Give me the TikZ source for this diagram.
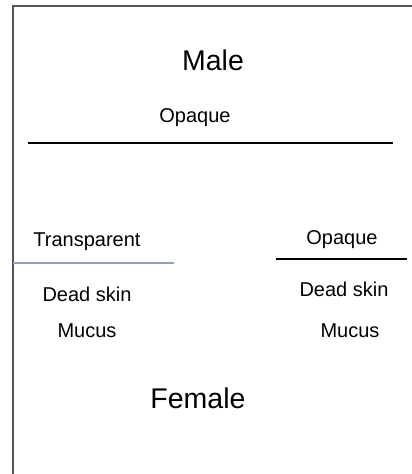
\documentclass[tikz,border=0pt]{standalone}
\usepackage{fontspec}
\setmainfont{Liberation Sans}
\definecolor{framegray}{HTML}{555555}
\definecolor{slateline}{HTML}{8FA0BD}
\begin{document}
\begin{tikzpicture}[x=1pt,y=1pt,
  title/.style={font=\fontsize{28.5}{30}\selectfont, inner sep=0pt, anchor=base},
  label/.style={font=\fontsize{20}{22}\selectfont, inner sep=0pt, anchor=base},
  blackline/.style={line width=2.8pt, black},
  blueline/.style={line width=2pt, slateline},
  frameline/.style={line width=1.8pt, framegray}]
\useasboundingbox (0,0) rectangle (412,474);
\fill[white] (0,0) rectangle (412,474);
% frame
\coordinate (fb) at (13,0);
\coordinate (fc) at (13,468);
\coordinate (fr) at (412,468);
\draw[frameline] (fb) -- (fc) -- (fr);
% texts
\node[title] (male) at (213,403) {Male};
\node[label] (opq1) at (195,351) {Opaque};
\node[label] (trans) at (87,227.3) {Transparent};
\node[label] (opq2) at (342,229) {Opaque};
\node[label] (dsl) at (87,172.3) {Dead skin};
\node[label] (dsr) at (344,177.3) {Dead skin};
\node[label] (mucl) at (87,136) {Mucus};
\node[label] (mucr) at (350,136) {Mucus};
\node[title] (female) at (198,65) {Female};
% lines
\coordinate (l1a) at (28,331);
\coordinate (l1b) at (393,331);
\draw[blackline] (l1a) -- (l1b);
\coordinate (l2a) at (13,211);
\coordinate (l2b) at (174,211);
\draw[blueline] (l2a) -- (l2b);
\coordinate (l3a) at (276,215);
\coordinate (l3b) at (407,215);
\draw[blackline] (l3a) -- (l3b);
\end{tikzpicture}
\end{document}
